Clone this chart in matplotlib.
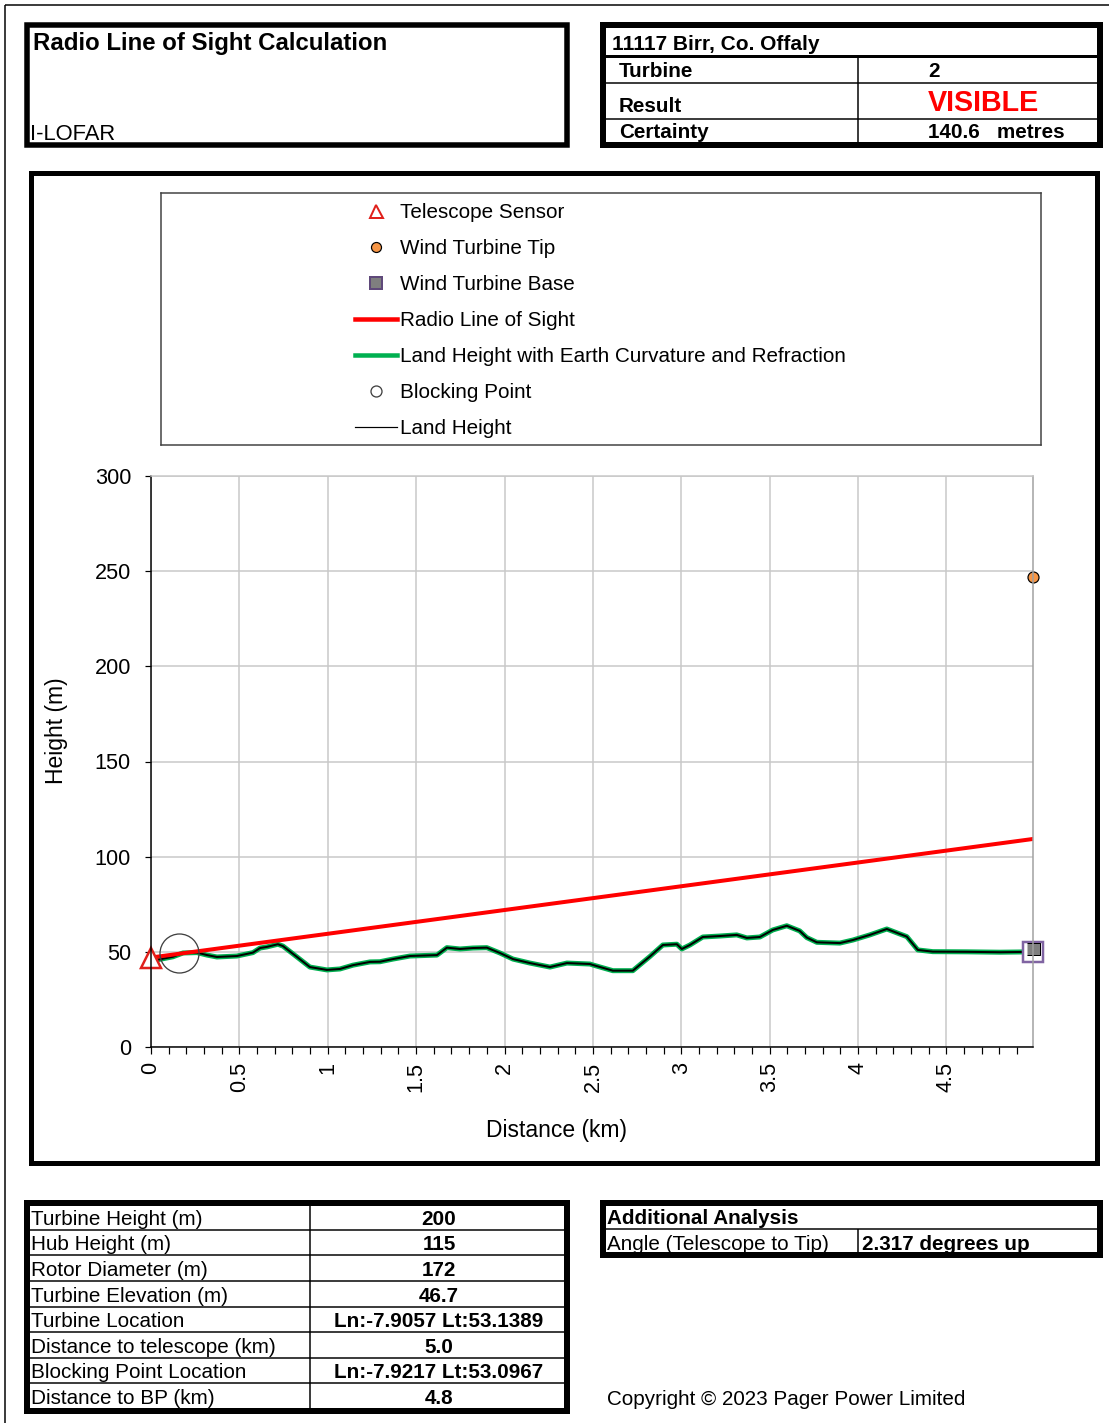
import numpy as np
import matplotlib.pyplot as plt
from matplotlib.patches import Rectangle
from matplotlib.lines import Line2D

plt.rcParams['font.family'] = ['Liberation Sans', 'DejaVu Sans']

#Header info
site_name = '11117 Birr, Co. Offaly'
telescope = 'I-LOFAR'
turbine_no = '2'
result = 'VISIBLE'
certainty_m = '140.6'

#Turbine details table
detail_labels = ['Turbine Height (m)', 'Hub Height (m)', 'Rotor Diameter (m)',
                 'Turbine Elevation (m)', 'Turbine Location', 'Distance to telescope (km)',
                 'Blocking Point Location', 'Distance to BP (km)']
detail_values = ['200', '115', '172', '46.7', 'Ln:-7.9057 Lt:53.1389', '5.0',
                 'Ln:-7.9217 Lt:53.0967', '4.8']
angle_to_tip = '2.317'

#Terrain profile (km, m)
dist_km = [0.0, 0.04, 0.124, 0.181, 0.26, 0.317, 0.373, 0.486, 0.577, 0.617, 0.656,
           0.718, 0.747, 0.826, 0.899, 0.995, 1.069, 1.143, 1.239, 1.295, 1.369,
           1.465, 1.618, 1.674, 1.748, 1.821, 1.900, 1.974, 2.048, 2.144, 2.257,
           2.353, 2.483, 2.5, 2.613, 2.726, 2.822, 2.896, 2.975, 3.003, 3.049,
           3.122, 3.218, 3.314, 3.371, 3.445, 3.518, 3.597, 3.670, 3.710, 3.767,
           3.897, 3.971, 4.067, 4.163, 4.236, 4.276, 4.338, 4.423, 4.615, 4.802, 4.99]
land_height = [46.5, 45.9, 47.4, 49.4, 49.6, 48.3, 47.3, 47.8, 49.6, 52.0, 52.6,
               54.0, 53.0, 47.3, 42.0, 40.5, 41.0, 43.0, 44.7, 44.8, 46.2,
               47.8, 48.3, 52.2, 51.5, 52.0, 52.2, 49.4, 46.2, 44.1, 42.0,
               44.1, 43.6, 43.1, 40.1, 40.1, 47.5, 53.6, 54.0, 51.5, 53.6,
               57.8, 58.3, 58.9, 57.3, 57.8, 61.5, 63.7, 61.0, 57.5, 55.0,
               54.6, 56.2, 58.9, 62.0, 59.4, 58.0, 51.0, 50.1, 50.0, 49.8, 50.0]

#Line of sight and key points
los_km = [0.0, 4.99]
los_height = [47.0, 109.3]
sensor_km, sensor_height = [0.0], [46.8]
tip_km, tip_height = [4.99], [246.7]
base_km, base_height = [4.99], [50.0]
bp_km, bp_height = [0.16], [49.2]

x_ticks = [0, 0.5, 1, 1.5, 2, 2.5, 3, 3.5, 4, 4.5]
x_tick_labels = ['0', '0.5', '1', '1.5', '2', '2.5', '3', '3.5', '4', '4.5']
y_ticks = [0, 50, 100, 150, 200, 250, 300]

legend_labels = ['Telescope Sensor', 'Wind Turbine Tip', 'Wind Turbine Base',
                 'Radio Line of Sight', 'Land Height with Earth Curvature and Refraction',
                 'Blocking Point', 'Land Height']

W, H = 1109., 1423.
fig = plt.figure(figsize=(W/100, H/100), dpi=100)

def pt(px):
    return px*0.72

#box given by outer edges in pixels
def frame(x0, y0, x1, y1, lw, color='black'):
    h = lw/2.
    fig.add_artist(Rectangle(((x0+h)/W, 1-(y1-h)/H), (x1-x0-lw)/W, (y1-y0-lw)/H,
                             transform=fig.transFigure, fill=False, lw=pt(lw),
                             ec=color, joinstyle='miter'))

def seg(xs, ys, lw, color='black'):
    fig.add_artist(Line2D([x/W for x in xs], [1-y/H for y in ys], transform=fig.transFigure,
                          lw=pt(lw), color=color, solid_capstyle='butt'))

def label(x, y, s, px, **kw):
    fig.text(x/W, 1-y/H, s, fontsize=pt(px), va='baseline', **kw)

#page edge
seg([5, 1109], [5, 5], 1.5)
seg([5, 5], [5, 1423], 1.5)

#Title box
frame(24, 22, 570, 148, 5.5)
label(33, 50, 'Radio Line of Sight Calculation', 24, fontweight='bold')
label(30, 140, telescope, 22)

#Result box
frame(600, 22, 1103, 148, 6)
seg([604, 1099], [56, 56], 3)
seg([604, 1099], [83, 83], 1.5)
seg([604, 1099], [119, 119], 1.5)
seg([858, 858], [57, 143], 1.5)
label(612, 50, site_name, 20.9, fontweight='bold')
label(619, 77, 'Turbine', 20.7, fontweight='bold')
label(928, 77, turbine_no, 20.7, fontweight='bold')
label(619, 112, 'Result', 20.7, fontweight='bold')
label(928, 111, result, 28.8, fontweight='bold', color='#ff0000')
label(619, 138, 'Certainty', 20.7, fontweight='bold')
label(928, 138, certainty_m + '   metres', 20.7, fontweight='bold')

#Chart box
frame(28, 170, 1099, 1165, 5)

#Legend
lax = fig.add_axes([161/W, 1-445/H, 880/W, 252/H])
lax.set_xlim(161, 1041)
lax.set_ylim(445, 193)
lax.set_xticks([])
lax.set_yticks([])
for s in lax.spines.values():
    s.set_color('#404040')
    s.set_linewidth(pt(1.5))
rows = [211, 247, 283, 319, 355, 391, 427]
lax.plot([376], [rows[0]], marker='^', ms=pt(13), mfc='white', mec='#e0201b', mew=pt(2))
lax.plot([376], [rows[1]], marker='o', ms=pt(10), mfc='#f79646', mec='black', mew=pt(1.2))
lax.plot([376], [rows[2]], marker='s', ms=pt(12), mfc='#7f7f7f', mec='#5f497a', mew=pt(2))
lax.plot([355, 397], [rows[3]]*2, color='#ff0000', lw=pt(4.5))
lax.plot([355, 397], [rows[4]]*2, color='#00b050', lw=pt(4.5))
lax.plot([376], [rows[5]], marker='o', ms=pt(11), mfc='white', mec='#404040', mew=pt(1.3))
lax.plot([355, 397], [rows[6]]*2, color='black', lw=pt(1.2))
for y, s in zip(rows, legend_labels):
    lax.text(400, y + 2, s, fontsize=pt(20.7), va='center', ha='left')

#Main chart
ax = fig.add_axes([151/W, 1-1047/H, 882/W, 571/H])
ax.plot(dist_km, land_height, color='#00b050', lw=pt(5), solid_joinstyle='round')
ax.plot(dist_km, land_height, color='black', lw=pt(2), solid_joinstyle='round')
ax.plot(los_km, los_height, color='#ff0000', lw=pt(4))
ax.plot(bp_km, bp_height, marker='o', ms=pt(39), mfc='none', mec='#404040', mew=pt(1.3),
        ls='none')
ax.plot(sensor_km, sensor_height, marker='^', ms=pt(20), mfc='white', mec='#e0201b',
        mew=pt(2.5), ls='none', clip_on=False)
ax.plot(tip_km, tip_height, marker='o', ms=pt(11), mfc='#f79646', mec='black',
        mew=pt(1.2), ls='none', clip_on=False)
ax.plot(base_km, base_height, marker='s', ms=pt(20), mfc='white', mec='#8064a2',
        mew=pt(2.5), ls='none', clip_on=False)
inner = [(-6.5, -2.5), (6.5, -2.5), (6.5, 9), (-6.5, 9)]
ax.plot(base_km, base_height, marker=inner, ms=pt(18), mfc='#7f7f7f', mec='black',
        mew=pt(1), ls='none', clip_on=False)

ax.set_xlim(0, 4.99)
ax.set_ylim(0, 300)
ax.set_xticks(x_ticks)
ax.set_xticklabels(x_tick_labels)
ax.set_xticks(np.arange(0, 4.95, 0.1), minor=True)
ax.set_yticks(y_ticks)
ax.grid(color='#c8c8c8', lw=pt(1.5))
ax.set_axisbelow(True)
ax.tick_params(axis='x', which='both', direction='out', length=pt(7), width=pt(1.2),
               labelsize=pt(21.6), labelrotation=90, pad=pt(8))
ax.tick_params(axis='y', direction='out', length=pt(6), width=pt(1.2),
               labelsize=pt(21.6), pad=pt(14))
ax.spines['left'].set_linewidth(pt(1.5))
ax.spines['bottom'].set_linewidth(pt(1.5))
ax.spines['top'].set_color('#c8c8c8')
ax.spines['top'].set_linewidth(pt(1.5))
ax.spines['right'].set_color('#a0a0a0')
ax.spines['right'].set_linewidth(pt(1.5))
ax.set_ylabel('Height (m)', fontsize=pt(22.9))
ax.yaxis.set_label_coords((57-151)/882., (1047-731)/571.)
ax.set_xlabel('Distance (km)', fontsize=pt(22.9))
ax.xaxis.set_label_coords((557-151)/882., (1047-1130)/571.)
ax.xaxis.label.set_va('center')
ax.yaxis.label.set_va('center')

#Details table
frame(24, 1200, 570, 1414, 6)
row_h = (1409-1204)/8.
for i in range(1, 8):
    y = 1204 + i*row_h
    seg([28, 566], [y, y], 1.5)
seg([310, 310], [1203, 1410], 1.5)
for i, (lab, val) in enumerate(zip(detail_labels, detail_values)):
    base = 1204 + (i+1)*row_h - 5
    label(31, base, lab, 20.7)
    label(439, base, val, 20.7, fontweight='bold', ha='center')

#Additional analysis table
frame(600, 1200, 1103, 1258, 6)
seg([604, 1099], [1229, 1229], 1.5)
seg([858, 858], [1229, 1255], 1.5)
label(607, 1224, 'Additional Analysis', 20.7, fontweight='bold')
label(607, 1250, 'Angle (Telescope to Tip)', 20.7)
label(862, 1250, angle_to_tip + ' degrees up', 20.7, fontweight='bold')

label(607, 1405, 'Copyright \u00a9 2023 Pager Power Limited', 20.7)

fig.savefig('out.png', dpi=100)
